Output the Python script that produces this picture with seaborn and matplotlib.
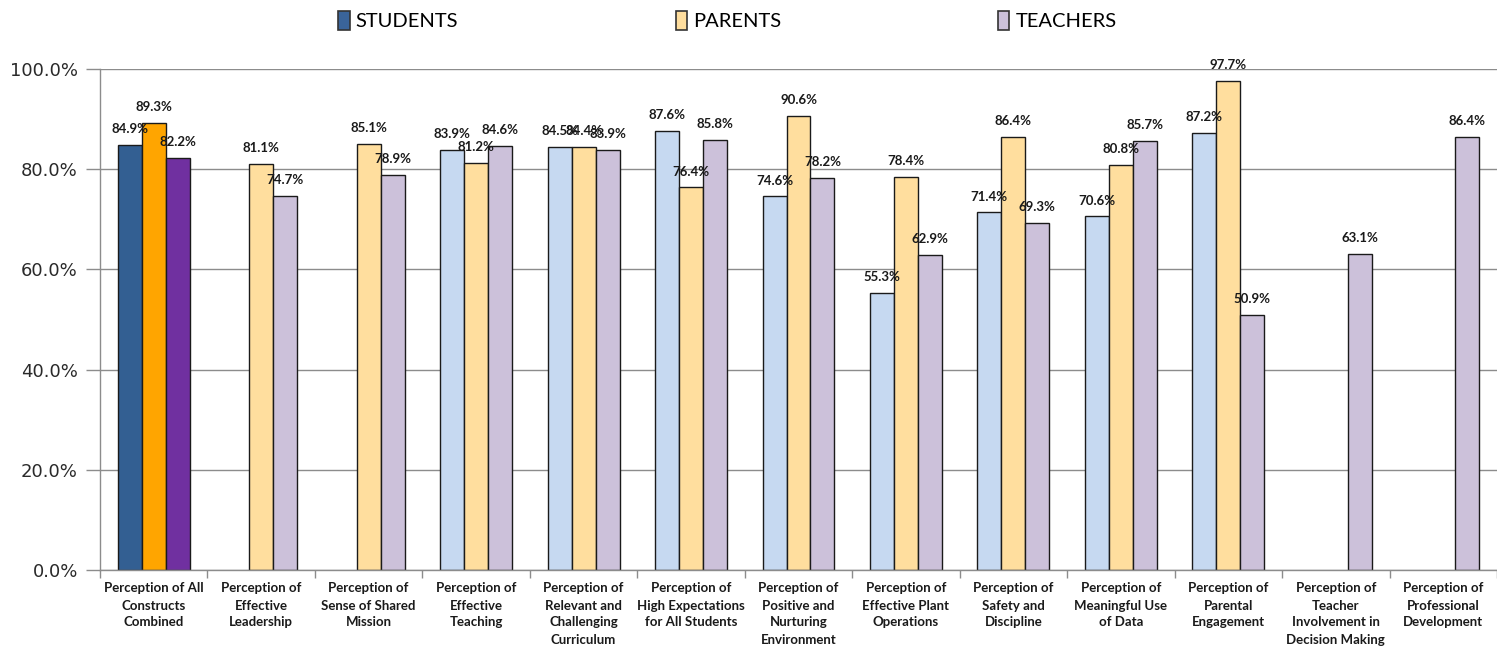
import matplotlib
matplotlib.use("Agg")
import matplotlib.pyplot as plt
import seaborn as sns
import pandas as pd
import numpy as np
from matplotlib.patches import Patch
from matplotlib.ticker import FuncFormatter, FixedLocator

categories = [
    "Perception of All\nConstructs\nCombined",
    "Perception of\nEffective\nLeadership",
    "Perception of\nSense of Shared\nMission",
    "Perception of\nEffective\nTeaching",
    "Perception of\nRelevant and\nChallenging\nCurriculum",
    "Perception of\nHigh Expectations\nfor All Students",
    "Perception of\nPositive and\nNurturing\nEnvironment",
    "Perception of\nEffective Plant\nOperations",
    "Perception of\nSafety and\nDiscipline",
    "Perception of\nMeaningful Use\nof Data",
    "Perception of\nParental\nEngagement",
    "Perception of\nTeacher\nInvolvement in\nDecision Making",
    "Perception of\nProfessional\nDevelopment",
]
groups = ["STUDENTS", "PARENTS", "TEACHERS"]
students = [84.9, np.nan, np.nan, 83.9, 84.5, 87.6, 74.6, 55.3, 71.4, 70.6, 87.2, np.nan, np.nan]
parents = [89.3, 81.1, 85.1, 81.2, 84.4, 76.4, 90.6, 78.4, 86.4, 80.8, 97.7, np.nan, np.nan]
teachers = [82.2, 74.7, 78.9, 84.6, 83.9, 85.8, 78.2, 62.9, 69.3, 85.7, 50.9, 63.1, 86.4]

light_colors = {"STUDENTS": "#C6D9F1", "PARENTS": "#FFDE9E", "TEACHERS": "#CCC1DA"}
dark_colors = {"STUDENTS": "#335F92", "PARENTS": "#FFA500", "TEACHERS": "#7030A0"}
legend_colors = {"STUDENTS": "#3A649A", "PARENTS": "#FFDE9E", "TEACHERS": "#CCC1DA"}

df = pd.DataFrame({
    "category": np.tile(categories, 3),
    "group": np.repeat(groups, len(categories)),
    "value": np.concatenate([students, parents, teachers]),
})

narrow = ["Lato", "DejaVu Sans"]

fig = plt.figure(figsize=(14.97, 6.47), dpi=100)
ax = fig.add_axes([100 / 1497, 77 / 647, 1397 / 1497, 501 / 647])

sns.barplot(
    data=df.dropna(), x="category", y="value", hue="group",
    order=categories, hue_order=groups,
    palette=light_colors, saturation=1, width=0.67,
    edgecolor="#1a1a1a", linewidth=1.0,
    legend=False, ax=ax, errorbar=None,
)

# first category uses the dark colours
for container, g in zip(ax.containers, groups):
    labels = []
    for bar in container:
        idx = int(round(bar.get_x() + bar.get_width() / 2))
        if idx == 0:
            bar.set_facecolor(dark_colors[g])
        labels.append(f"{bar.get_height():.1f}%")
    ax.bar_label(container, labels=labels, padding=7, fontsize=9.5,
                 fontweight="bold", family=narrow, color="#1a1a1a")

ax.set_xlim(-0.5, len(categories) - 0.5)
ax.set_ylim(0, 100)
ax.yaxis.set_major_locator(FixedLocator([0, 20, 40, 60, 80, 100]))
ax.yaxis.set_major_formatter(FuncFormatter(lambda v, p: f"{v:.1f}%"))
ax.tick_params(axis="y", labelsize=13, length=10, color="#8c8c8c", width=1,
               labelcolor="#2a2a2a", pad=6)
ax.grid(axis="y", color="#8c8c8c", linewidth=1)
ax.set_axisbelow(True)

ax.set_xticks(range(len(categories)))
ax.set_xticklabels(categories, fontsize=9.5, fontweight="bold", family=narrow,
                   linespacing=1.5, va="top", color="#1a1a1a")
ax.tick_params(axis="x", length=0, pad=9)
ax.xaxis.set_minor_locator(FixedLocator(np.arange(-0.5, len(categories), 1)))
ax.tick_params(axis="x", which="minor", length=6, color="#8c8c8c", width=1)

ax.set_xlabel("")
ax.set_ylabel("")
for side in ["top", "right"]:
    ax.spines[side].set_visible(False)
for side in ["left", "bottom"]:
    ax.spines[side].set_color("#8c8c8c")
    ax.spines[side].set_linewidth(1)

handles = [Patch(facecolor=legend_colors[g], edgecolor="#333333", linewidth=1.2) for g in groups]
fig.legend(handles, groups, loc="center", bbox_to_anchor=(0.486, 0.968), ncol=3,
           frameon=False, prop={"family": narrow, "size": 14.5},
           handlelength=0.55, handleheight=1.1, handletextpad=0.3, columnspacing=10.8)

fig.savefig("out.png", dpi=100)
